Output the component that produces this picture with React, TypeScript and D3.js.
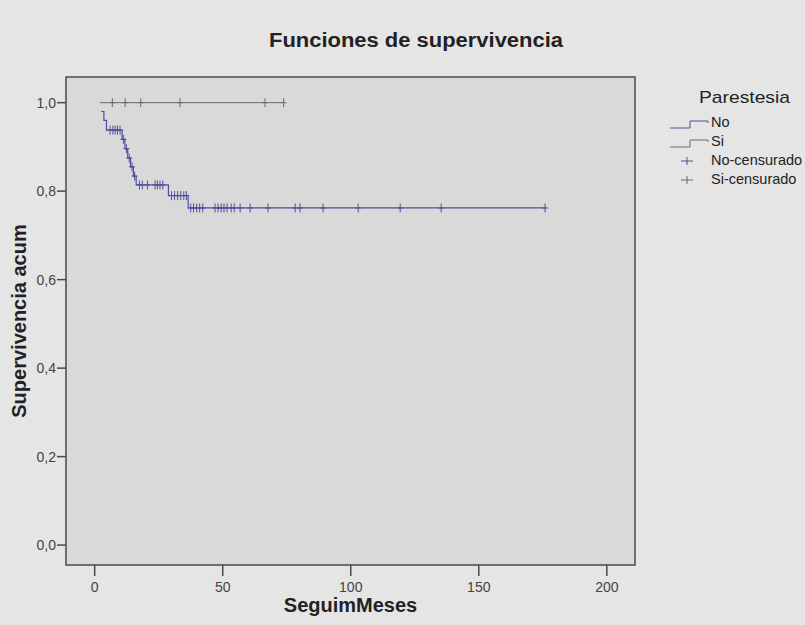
import React from "react";
import * as d3 from "d3";

// Kaplan-Meier step curve for "No": [time in months, cumulative survival]
const noTimes = [2.5, 3.6, 4.6, 10.7, 11.8, 12.9, 14.0, 15.1, 16.2, 28.8, 36.5, 176.0];
const noSurvival = [0.98, 0.96, 0.938, 0.917, 0.896, 0.875, 0.855, 0.834, 0.814, 0.79, 0.762, 0.762];
// Censored follow-up times for "No"
const noCensored = [
  6.0, 7.1, 8.0, 8.9, 9.9, 11.2, 12.4, 13.5, 14.6, 15.6, 17.5, 18.6, 20.6, 23.6, 24.5, 25.5, 26.6,
  30.0, 31.2, 32.4, 33.6, 34.8, 35.8, 37.5, 38.6, 39.8, 41.0, 42.2, 47.0, 48.2, 49.4, 50.5, 51.7,
  53.3, 54.5, 56.8, 60.7, 67.7, 78.3, 80.2, 89.2, 102.9, 119.3, 135.3, 175.9,
];

// Curve for "Si" (no events)
const siTimes = [2.0, 73.8];
const siSurvival = [1.0, 1.0];
const siCensored = [6.9, 11.9, 18.0, 33.3, 66.5, 73.8];

const xTicks = [0, 50, 100, 150, 200];
const yTicks = [0, 0.2, 0.4, 0.6, 0.8, 1.0];
const legendItems = ["No", "Si", "No-censurado", "Si-censurado"];

const W = 805;
const H = 625;
const frame = { left: 66, right: 635, top: 77, bottom: 565 };
const NO_COLOR = "#4f4f9c";
const SI_COLOR = "#66705f";
const FONT = "'Liberation Sans', Arial, sans-serif";

export default function App() {
  const x = d3.scaleLinear().domain([-11.2, 211]).range([frame.left, frame.right]);
  const y = d3.scaleLinear().domain([-0.045, 1.058]).range([frame.bottom, frame.top]);

  const stepLine = d3
    .line<[number, number]>()
    .x((d) => x(d[0]))
    .y((d) => y(d[1]))
    .curve(d3.curveStepAfter);

  const noPts = noTimes.map((t, i) => [t, noSurvival[i]] as [number, number]);
  const siPts = siTimes.map((t, i) => [t, siSurvival[i]] as [number, number]);

  const survAt = (times: number[], surv: number[], t: number) => {
    let s = surv[0];
    for (let i = 0; i < times.length; i++) if (times[i] <= t) s = surv[i];
    return s;
  };

  const cross = (cx: number, cy: number, color: string, key: string, hw = 3, hh = 4.5) => (
    <g key={key} stroke={color} strokeWidth={1}>
      <line x1={cx - hw} x2={cx + hw} y1={cy} y2={cy} />
      <line x1={cx} x2={cx} y1={cy - hh} y2={cy + hh} />
    </g>
  );

  const fmt = (v: number) => v.toFixed(1).replace(".", ",");

  return (
    <svg
      width={W}
      height={H}
      style={{ position: "absolute", left: 0, top: 0, fontFamily: FONT }}
    >
      <rect x={0} y={0} width={W} height={H} fill="#e5e5e5" />
      <text
        x={416}
        y={47}
        textAnchor="middle"
        fontSize={20}
        fontWeight="bold"
        fill="#222"
        textLength={294}
        lengthAdjust="spacingAndGlyphs"
      >
        Funciones de supervivencia
      </text>

      <rect
        x={frame.left}
        y={frame.top}
        width={frame.right - frame.left}
        height={frame.bottom - frame.top}
        fill="#d9d9d9"
        stroke="#4a4a4a"
        strokeWidth={1.5}
      />

      {/* y axis */}
      {yTicks.map((v) => (
        <g key={"y" + v}>
          <line x1={frame.left - 9} x2={frame.left} y1={y(v)} y2={y(v)} stroke="#4a4a4a" strokeWidth={1.5} />
          <text x={frame.left - 10} y={y(v) + 5} textAnchor="end" fontSize={14} fill="#444">
            {fmt(v)}
          </text>
        </g>
      ))}
      <text
        transform={`translate(26, ${(frame.top + frame.bottom) / 2}) rotate(-90)`}
        textAnchor="middle"
        fontSize={20}
        fontWeight="bold"
        fill="#222"
      >
        Supervivencia acum
      </text>

      {/* x axis */}
      {xTicks.map((v) => (
        <g key={"x" + v}>
          <line x1={x(v)} x2={x(v)} y1={frame.bottom} y2={frame.bottom + 11} stroke="#4a4a4a" strokeWidth={1.5} />
          <text x={x(v)} y={592} textAnchor="middle" fontSize={14} fill="#444">
            {v}
          </text>
        </g>
      ))}
      <text x={(frame.left + frame.right) / 2} y={612} textAnchor="middle" fontSize={20} fontWeight="bold" fill="#222">
        SeguimMeses
      </text>

      {/* survival curves */}
      <path d={stepLine(siPts) ?? ""} fill="none" stroke={SI_COLOR} strokeWidth={1} />
      <path d={stepLine(noPts) ?? ""} fill="none" stroke={NO_COLOR} strokeWidth={1.2} />
      {siCensored.map((t, i) => cross(x(t), y(survAt(siTimes, siSurvival, t)), SI_COLOR, "sc" + i))}
      {noCensored.map((t, i) => cross(x(t), y(survAt(noTimes, noSurvival, t)), NO_COLOR, "nc" + i))}

      {/* legend */}
      <text
        x={699}
        y={103}
        fontSize={17}
        fill="#222"
        textLength={91}
        lengthAdjust="spacingAndGlyphs"
      >
        Parestesia
      </text>
      {legendItems.map((label, i) => {
        const baseY = 127 + i * 19;
        const color = i % 2 === 0 ? NO_COLOR : SI_COLOR;
        return (
          <g key={label}>
            {i < 2 ? (
              <path
                d={`M670,${baseY + 1}H690V${baseY - 6}H708V${baseY - 4}`}
                fill="none"
                stroke={color}
                strokeWidth={1}
              />
            ) : (
              cross(687, baseY - 4, color, "lg" + i, 6, 4)
            )}
            <text x={711} y={baseY} fontSize={14.5} fill="#222">
              {label}
            </text>
          </g>
        );
      })}
    </svg>
  );
}
